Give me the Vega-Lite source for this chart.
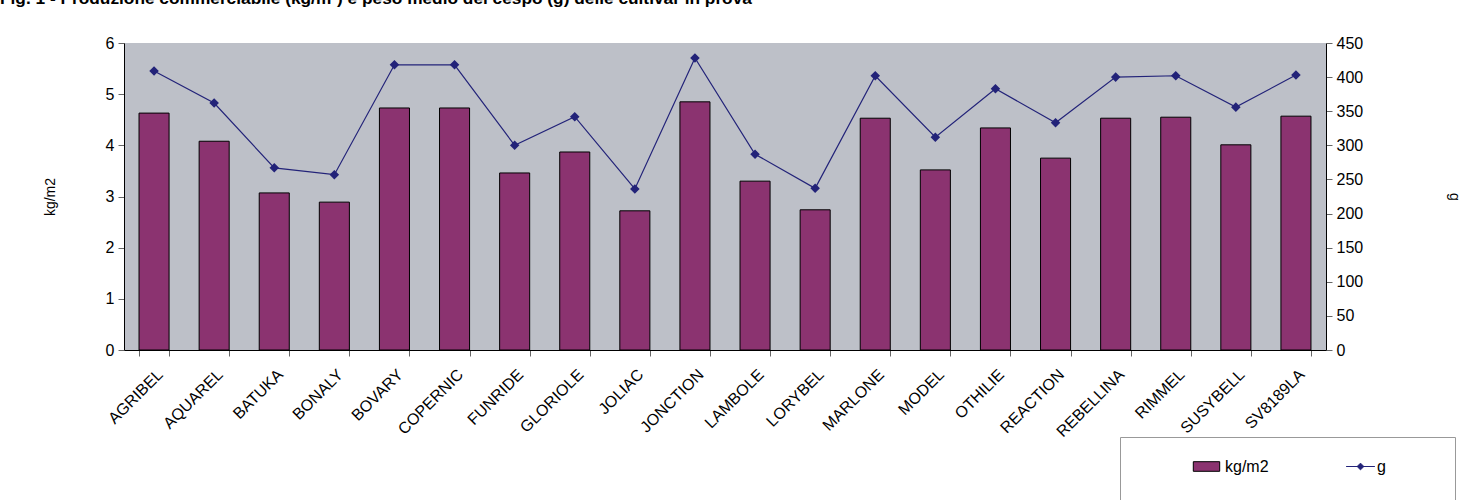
{
  "$schema": "https://vega.github.io/schema/vega-lite/v6.json",
  "width": 1202,
  "height": 307,
  "autosize": {"type": "none"},
  "padding": {"left": 124, "top": 43, "right": 146, "bottom": 150},
  "background": "white",
  "title": {
    "text": "Fig. 1 - Produzione commerciabile (kg/m²) e peso medio del cespo (g) delle cultivar in prova",
    "anchor": "start",
    "frame": "group",
    "dx": -124,
    "offset": 28,
    "font": "Liberation Sans",
    "fontSize": 17.3,
    "fontWeight": "bold",
    "color": "#000000"
  },
  "config": {
    "view": {"fill": "#BDC0C8", "stroke": null},
    "font": "Liberation Sans",
    "axis": {
      "labelFont": "Liberation Sans",
      "titleFont": "Liberation Sans",
      "labelColor": "#000000",
      "titleColor": "#000000",
      "domainColor": "#000000",
      "tickColor": "#666666",
      "grid": false,
      "labelFontSize": 16,
      "titleFontSize": 14,
      "titleFontWeight": "normal",
      "tickSize": 6
    },
    "legend": {
      "labelFont": "Liberation Sans",
      "labelFontSize": 16,
      "labelColor": "#000000",
      "labelOffset": 4
    }
  },
  "data": {
    "values": [
      {"cultivar": "AGRIBEL", "kg": 4.63, "g": 409},
      {"cultivar": "AQUAREL", "kg": 4.08, "g": 362},
      {"cultivar": "BATUKA", "kg": 3.07, "g": 267},
      {"cultivar": "BONALY", "kg": 2.89, "g": 257},
      {"cultivar": "BOVARY", "kg": 4.73, "g": 418},
      {"cultivar": "COPERNIC", "kg": 4.73, "g": 418},
      {"cultivar": "FUNRIDE", "kg": 3.46, "g": 300},
      {"cultivar": "GLORIOLE", "kg": 3.87, "g": 342},
      {"cultivar": "JOLIAC", "kg": 2.72, "g": 236},
      {"cultivar": "JONCTION", "kg": 4.85, "g": 428},
      {"cultivar": "LAMBOLE", "kg": 3.30, "g": 287},
      {"cultivar": "LORYBEL", "kg": 2.74, "g": 237},
      {"cultivar": "MARLONE", "kg": 4.53, "g": 402},
      {"cultivar": "MODEL", "kg": 3.52, "g": 312},
      {"cultivar": "OTHILIE", "kg": 4.34, "g": 383},
      {"cultivar": "REACTION", "kg": 3.75, "g": 333},
      {"cultivar": "REBELLINA", "kg": 4.53, "g": 400},
      {"cultivar": "RIMMEL", "kg": 4.55, "g": 402},
      {"cultivar": "SUSYBELL", "kg": 4.01, "g": 356},
      {"cultivar": "SV8189LA", "kg": 4.57, "g": 403}
    ]
  },
  "encoding": {
    "x": {
      "field": "cultivar",
      "type": "nominal",
      "sort": null,
      "scale": {"paddingInner": 0.5, "paddingOuter": 0.25},
      "axis": {
        "title": null,
        "labelAngle": -45,
        "labelAlign": "right",
        "labelBaseline": "top",
        "labelPadding": 10,
        "tickBand": "extent",
        "ticks": true
      }
    }
  },
  "layer": [
    {
      "mark": {"type": "bar", "stroke": "#000000", "strokeWidth": 1},
      "encoding": {
        "y": {
          "field": "kg",
          "type": "quantitative",
          "scale": {"domain": [0, 6], "nice": false},
          "axis": {"title": "kg/m2", "values": [0, 1, 2, 3, 4, 5, 6], "titlePadding": 48, "labelPadding": 4}
        },
        "fill": {
          "datum": "kg/m2",
          "type": "nominal",
          "scale": {"domain": ["kg/m2"], "range": ["#8B3370"]},
          "legend": {
            "title": "\u00a0",
            "titleOrient": "right",
            "titleFontSize": 80,
            "titlePadding": 169,
            "orient": "none",
            "legendX": 996,
            "legendY": 394,
            "strokeColor": "#999999",
            "fillColor": "#ffffff",
            "padding": 17,
            "symbolSize": 576,
            "symbolOffset": 57,
            "labelOffset": 6,
            "symbolType": "M-1.1,-0.4H1.1V0.4H-1.1Z",
            "symbolStrokeColor": "#000000",
            "symbolStrokeWidth": 1,
            "symbolOpacity": 1
          }
        }
      }
    },
    {
      "mark": {"type": "line", "strokeWidth": 1.2, "point": {"shape": "diamond", "filled": true, "fill": "#232379", "size": 45}},
      "encoding": {
        "y": {
          "field": "g",
          "type": "quantitative",
          "scale": {"domain": [0, 450], "nice": false},
          "axis": {"title": "g", "orient": "right", "values": [0, 50, 100, 150, 200, 250, 300, 350, 400, 450], "titlePadding": 84, "labelPadding": 4}
        },
        "stroke": {
          "datum": "g",
          "type": "nominal",
          "scale": {"domain": ["g"], "range": ["#232379"]},
          "legend": {
            "title": null,
            "orient": "none",
            "legendX": 1224,
            "legendY": 411,
            "padding": 0,
            "symbolSize": 576,
            "symbolOffset": 0,
            "symbolType": "M-1.2,0H1.2M0,-0.28L0.28,0L0,0.28L-0.28,0Z",
            "symbolFillColor": "#232379",
            "symbolStrokeWidth": 1,
            "symbolOpacity": 1
          }
        }
      }
    }
  ],
  "resolve": {"scale": {"y": "independent"}}
}
